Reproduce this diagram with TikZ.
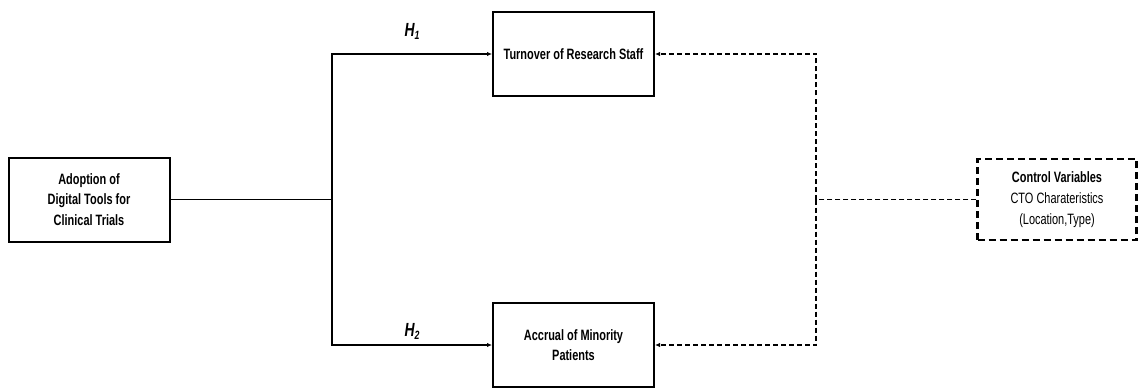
\documentclass[tikz,border=0pt]{standalone}
\usepackage{fontspec}
\setmainfont{Liberation Sans}[FakeStretch=0.73]
\usetikzlibrary{arrows.meta}
\tikzset{
  x=1pt,y=1pt,
  solidbox/.style={draw, line width=2pt, minimum width=161pt, minimum height=84pt, align=center, inner sep=0pt, font=\fontsize{15}{20.5}\selectfont\bfseries},
  ctrlbox/.style={draw, line width=2.5pt, dash pattern=on 7pt off 4pt, minimum width=159pt, minimum height=81pt, align=center, inner sep=0pt, font=\fontsize{15}{21}\selectfont},
  conn/.style={line width=1.5pt},
  dconn/.style={line width=1.3pt, dash pattern=on 5pt off 3pt},
  tip/.style={-{Latex[length=5pt,width=4.5pt]}},
  hlabel/.style={font=\fontsize{19}{20}\selectfont\bfseries\itshape, inner sep=0pt}
}
\begin{document}
\begin{tikzpicture}
\useasboundingbox (0,0) rectangle (1139,389);
\node[solidbox] (adopt) at (89,189.5) {Adoption of\\Digital Tools for\\Clinical Trials};
\node[solidbox] (turn) at (573.5,335) {Turnover of Research Staff};
\node[solidbox] (accr) at (573.5,44) {Accrual of Minority\\Patients};
\node[ctrlbox] (ctrl) at (1057,189.5) {\textbf{Control Variables}\\CTO Charateristics\\(Location,Type)};
\coordinate (split) at (332,189.5);
\coordinate (cj) at (816,189.5);
\draw[conn] (adopt.east) -- (split);
\draw[conn,tip] (split) |- (turn.west);
\draw[conn,tip] (split) |- (accr.west);
\draw[dconn] (ctrl.west) -- (cj);
\draw[dconn,tip] (cj) |- (turn.east);
\draw[dconn,tip] (cj) |- (accr.east);
\node[hlabel] (h1) at (412,358) {H\raisebox{-0.3ex}{\fontsize{12}{12}\selectfont 1}};
\node[hlabel] (h2) at (412,58) {H\raisebox{-0.3ex}{\fontsize{12}{12}\selectfont 2}};
\end{tikzpicture}
\end{document}
